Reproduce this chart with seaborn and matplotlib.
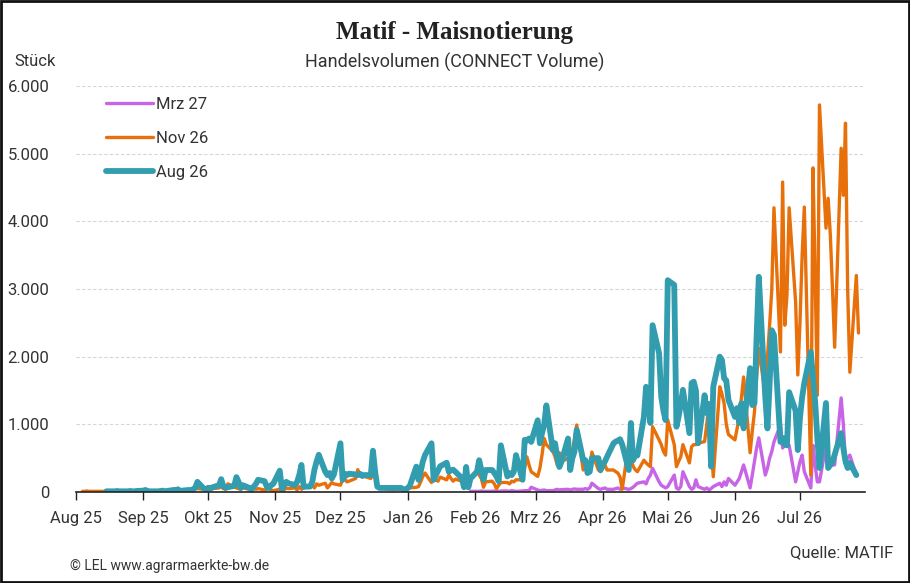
import numpy as np
import pandas as pd
import matplotlib
matplotlib.use('Agg')
import matplotlib.pyplot as plt
import matplotlib.dates as mdates
from matplotlib.ticker import FuncFormatter
import seaborn as sns

# handelsvolumen, one value per trading day
aug26_start = '2025-08-15'
aug26 = [10,
         10, 10, 15, 10, 10, 10, 15, 10, 10, 15, 20, 30, 15, 10, 10,
         10, 15, 20, 10, 15, 30, 20, 40, 15, 20, 30, 20, 40, 60, 150,
         50, 40, 60, 50, 70, 100, 190, 80, 60, 70, 90, 220, 150, 60, 100,
         60, 40, 80, 120, 180, 160, 80, 60, 100, 120, 315, 40, 100, 150, 130,
         100, 150, 250, 400, 80, 80, 150, 330, 450, 550, 300, 250, 280, 200, 260,
         720, 180, 270, 250, 270, 260, 250, 270, 240, 250, 250, 610, 300, 80, 60,
         60, 60, 60, 60, 60, 60, 40, 30, 60, 90, 375, 180, 300, 450, 545,
         720, 180, 250, 315, 380, 433, 300, 320, 330, 300, 205, 70, 370, 70, 200,
         300, 470, 325, 180, 325, 325, 280, 230, 160, 690, 230, 280, 250, 300, 545,
         180, 770, 760, 790, 740, 1060, 720, 870, 1000, 1280, 620, 720, 520, 370, 450,
         790, 325, 500, 600, 920, 470, 470, 280, 300, 500, 500, 325, 400, 450, 520,
         720, 745, 760, 780, 700, 325, 1020, 470, 545, 540, 1110, 1555, 1408, 1020, 2465,
         2050, 1408, 1200, 1063, 3130, 3060, 965, 1110, 1300, 1510, 870, 1610, 1630, 1500, 720,
         1430, 1165, 1300, 375, 1555, 2000, 1950, 1680, 1650, 1360, 1110, 1240, 1020, 1310, 940,
         1830, 1285, 1310, 2300, 3180, 1400, 940, 1600, 2390, 2320, 740, 800, 700, 690, 1475,
         1200, 620, 1100, 1400, 1610, 2070, 1700, 1330, 800, 355, 1315, 355, 400, 445, 550,
         870, 650, 450, 355, 430, 250]

nov26_start = '2025-08-04'
nov26 = [10, 10, 15, 10, 10, 10, 10, 10, 10, 5, 5, 5, 10, 5, 5,
         5, 10, 5, 5, 10, 10, 5, 10, 5, 10, 5, 10, 10, 5, 10,
         10, 15, 10, 20, 10, 20, 30, 60, 80, 50, 40, 60, 80, 40, 50,
         60, 80, 50, 40, 120, 80, 60, 50, 40, 60, 40, 30, 60, 40, 50,
         30, 40, 60, 30, 20, 40, 20, 30, 60, 50, 60, 30, 80, 40, 60,
         80, 100, 60, 120, 100, 130, 60, 100, 140, 120, 100, 180, 200, 150, 160,
         200, 330, 250, 220, 230, 200, 250, 240, 80, 60, 50, 40, 40, 30, 40,
         40, 30, 20, 40, 60, 70, 80, 150, 230, 280, 140, 200, 180, 160, 220,
         180, 250, 200, 160, 190, 160, 150, 180, 170, 200, 325, 250, 200, 70, 150,
         160, 120, 50, 100, 140, 140, 120, 160, 150, 180, 180, 350, 520, 400, 300,
         230, 350, 550, 790, 700, 600, 520, 400, 580, 450, 500, 450, 600, 800, 990,
         325, 400, 300, 350, 590, 325, 300, 350, 400, 325, 325, 300, 280, 220, 40,
         720, 500, 380, 330, 300, 470, 430, 400, 375, 965, 770, 700, 600, 545, 1063,
         700, 375, 450, 520, 700, 430, 670, 700, 700, 720, 745, 1000, 1310, 700, 225,
         1555, 1450, 1310, 1000, 850, 770, 940, 1100, 1400, 1700, 580, 900, 1180, 1700, 2125,
         1430, 2000, 2465, 3000, 4200, 2070, 4580, 2465, 2910, 4200, 2800, 1730, 2500, 3500, 4210,
         250, 4790, 3200, 1430, 5720, 3900, 4340, 3800, 3000, 2140, 5080, 4385, 5450, 3000, 1770,
         3200, 2350]

mrz27_start = '2026-01-30'
mrz27 = [10,
         10, 10, 15, 10, 10, 10, 15, 10, 10, 15, 15, 10, 20, 15, 10,
         15, 20, 20, 20, 70, 30, 20, 25, 30, 20, 20, 30, 40, 30, 35,
         40, 30, 40, 45, 40, 40, 50, 40, 60, 130, 50, 40, 50, 60, 40,
         40, 50, 60, 40, 60, 40, 50, 70, 100, 130, 150, 120, 200, 250, 350,
         150, 100, 80, 60, 80, 250, 60, 40, 80, 300, 80, 40, 60, 180, 80,
         40, 60, 30, 50, 80, 130, 80, 150, 100, 200, 100, 150, 200, 300, 400,
         60, 250, 450, 650, 800, 250, 350, 500, 600, 740, 990, 650, 700, 680, 690,
         150, 300, 450, 545, 300, 60, 690, 400, 150, 150, 690, 500, 450, 400, 400,
         1390, 1000, 440, 500, 545, 250]

series_names = ['Mrz 27', 'Nov 26', 'Aug 26']
series_colors = ['#c864e6', '#e8700a', '#339db0']
series_widths = [2.4, 2.4, 4.2]

month_names = ['Jan', 'Feb', 'Mrz', 'Apr', 'Mai', 'Jun', 'Jul', 'Aug', 'Sep', 'Okt', 'Nov', 'Dez']

frames = []
for name, start, vals in [('Mrz 27', mrz27_start, mrz27),
                          ('Nov 26', nov26_start, nov26),
                          ('Aug 26', aug26_start, aug26)]:
    frames.append(pd.DataFrame({'date': pd.bdate_range(start, periods=len(vals)),
                                'volume': vals, 'contract': name}))
df = pd.concat(frames, ignore_index=True)

sns.set_theme(style='white')
plt.rcParams['font.family'] = ['Roboto', 'DejaVu Sans']

fig = plt.figure(figsize=(9.1, 5.83), dpi=100)
ax = fig.add_axes([76 / 910, 91 / 583, 789 / 910, 406 / 583])

for name, col, lw in zip(series_names, series_colors, series_widths):
    sub = df[df['contract'] == name]
    sns.lineplot(data=sub, x='date', y='volume', color=col, linewidth=lw,
                 label=name, ax=ax, solid_joinstyle='round', solid_capstyle='round')

ax.set_xlim(pd.Timestamp('2025-08-01'), pd.Timestamp('2026-07-31'))
ax.set_ylim(0, 6000)
ax.set_yticks(np.arange(0, 6001, 1000))
ax.yaxis.set_major_formatter(FuncFormatter(lambda v, p: f'{int(v):,}'.replace(',', '.')))
ax.xaxis.set_major_locator(mdates.MonthLocator())
ax.xaxis.set_major_formatter(FuncFormatter(
    lambda v, p: f"{month_names[mdates.num2date(v).month - 1]} {mdates.num2date(v).year % 100:02d}"))

ax.grid(axis='y', color='#d6d6d6', linestyle=(0, (3, 2)), linewidth=0.8)
ax.grid(axis='x', visible=False)
for s in ['left', 'right', 'top']:
    ax.spines[s].set_visible(False)
ax.spines['bottom'].set_color('#222222')
ax.spines['bottom'].set_linewidth(1.2)
ax.tick_params(axis='x', which='major', bottom=True, length=6, width=1, color='#222222',
               labelsize=12, labelcolor='#333333', pad=8)
ax.tick_params(axis='y', left=False, labelsize=12, labelcolor='#333333', pad=13)
ax.set_xlabel('')
ax.set_ylabel('')

handles, labels = ax.get_legend_handles_labels()
leg = ax.legend(handles, labels, loc='upper left', bbox_to_anchor=(0.03, 0.99),
                frameon=False, fontsize=12, handlelength=2.8, handletextpad=0.15,
                labelspacing=1.15, borderaxespad=0)
for t in leg.get_texts():
    t.set_color('#333333')

fig.text(0.5, 551 / 583, 'Matif - Maisnotierung', ha='center', va='center',
         fontsize=18, fontweight='bold', family='Liberation Serif', color='#222222')
fig.text(0.5, 521 / 583, 'Handelsvolumen (CONNECT Volume)', ha='center', va='center',
         fontsize=13, color='#333333')
fig.text(14 / 910, 521 / 583, 'Stück', ha='left', va='center', fontsize=12, color='#333333')
fig.text(70 / 910, 17 / 583, '© LEL www.agrarmaerkte-bw.de', ha='left', va='center',
         fontsize=10, color='#333333')
fig.text(893 / 910, 30 / 583, 'Quelle: MATIF', ha='right', va='center',
         fontsize=12, color='#333333')

fig.patches.append(plt.Rectangle((0.001, 0.0015), 0.998, 0.997, transform=fig.transFigure,
                                 fill=False, edgecolor='#111111', linewidth=2))

fig.savefig('out.png', dpi=100)
